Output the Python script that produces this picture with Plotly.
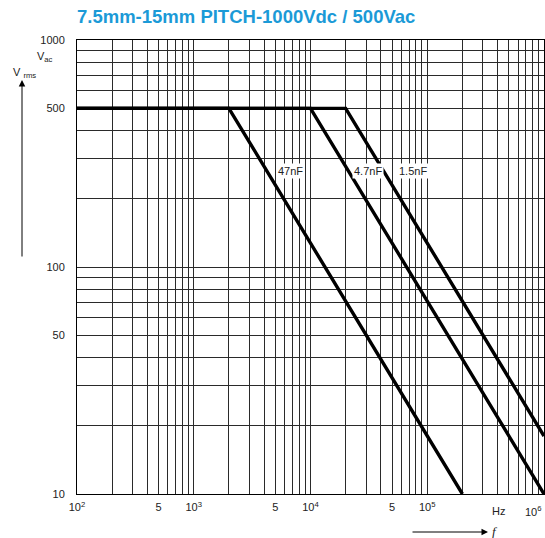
import math
import plotly.graph_objects as go

# ---- data ----
cap_labels = ["47nF", "4.7nF", "1.5nF"]
freq_47nF = [100, 2000, 200000]
volt_47nF = [500, 500, 10]
freq_4n7F = [100, 10000, 1000000]
volt_4n7F = [500, 500, 10]
freq_1n5F = [100, 20000, 1000000]
volt_1n5F = [500, 500, 18]

# label anchor positions (freq, volt)
label_freq = [6700, 31000, 75500]
label_volt = [265, 265, 265]

# tick labels
x_tick_vals = [100, 500, 1000, 5000, 10000, 50000, 100000]
x_tick_text = ["10<sup>2</sup>", "5", "10<sup>3</sup>", "5", "10<sup>4</sup>", "5", "10<sup>5</sup>"]
y_tick_vals = [10, 50, 100, 500, 1000]
y_tick_text = ["10", "50", "100", "500", "1000"]
# grid lines at every 1..9 x 10^n
x_grid = [m * 10 ** e for e in range(2, 6) for m in range(1, 10)] + [10 ** 6]
y_grid = [m * 10 ** e for e in range(1, 3) for m in range(1, 10)] + [1000]

title_text = "7.5mm-15mm PITCH-1000Vdc / 500Vac"

FONT = "Liberation Sans, Arial"
TXT = "#222"

fig = go.Figure()
for f, v in [(freq_47nF, volt_47nF), (freq_4n7F, volt_4n7F), (freq_1n5F, volt_1n5F)]:
    fig.add_trace(go.Scatter(x=f, y=v, mode="lines",
                             line=dict(color="black", width=3.4),
                             showlegend=False, hoverinfo="skip"))

grid_col = "#2a2a2a"
fig.update_xaxes(type="log", range=[2, 6],
                 tickmode="array", tickvals=x_tick_vals, ticktext=x_tick_text,
                 showgrid=True, gridcolor=grid_col, gridwidth=1,
                 minor=dict(tickmode="array",
                            tickvals=[v for v in x_grid if v not in x_tick_vals],
                            showgrid=True, gridcolor=grid_col, gridwidth=1, ticks=""),
                 showline=True, linecolor="black", linewidth=1, mirror=True,
                 ticks="", zeroline=False, ticklabelstandoff=3,
                 tickfont=dict(family=FONT, size=11, color=TXT))
fig.update_yaxes(type="log", range=[1, 3],
                 tickmode="array", tickvals=y_tick_vals, ticktext=y_tick_text,
                 showgrid=True, gridcolor=grid_col, gridwidth=1,
                 minor=dict(tickmode="array",
                            tickvals=[v for v in y_grid if v not in y_tick_vals],
                            showgrid=True, gridcolor=grid_col, gridwidth=1, ticks=""),
                 showline=True, linecolor="black", linewidth=1, mirror=True,
                 ticks="", zeroline=False, ticklabelstandoff=9,
                 tickfont=dict(family=FONT, size=11, color=TXT))

ann = []
for lab, fx, vy in zip(cap_labels, label_freq, label_volt):
    ann.append(dict(x=math.log10(fx), y=math.log10(vy), xref="x", yref="y",
                    text=lab, showarrow=False, bgcolor="white",
                    font=dict(family=FONT, size=11, color=TXT),
                    borderpad=1))
# 10^6 label, Hz
ann.append(dict(x=1, y=0, xref="paper", yref="paper", xanchor="right", yanchor="top",
                yshift=-8, text="10<sup>6</sup>", showarrow=False,
                font=dict(family=FONT, size=11, color=TXT)))
ann.append(dict(x=math.log10(4.1e5), y=0, xref="x", yref="paper", yanchor="top",
                yshift=-9, text="Hz", showarrow=False,
                font=dict(family=FONT, size=11, color=TXT)))
# V_ac under 1000
ann.append(dict(x=0, y=1, xref="paper", yref="paper", xanchor="right", yanchor="top",
                xshift=-22, yshift=-8, text="V<sub>ac</sub>", showarrow=False,
                font=dict(family=FONT, size=11, color=TXT)))
# V rms label
ann.append(dict(x=0, y=1, xref="paper", yref="paper", xanchor="left", yanchor="middle",
                xshift=-66, yshift=-33, text="V <sub>rms</sub>", showarrow=False,
                font=dict(family=FONT, size=11, color=TXT)))
# vertical arrow
ann.append(dict(x=0, y=1, xref="paper", yref="paper", xshift=-55, yshift=-40,
                ax=0, ay=178, axref="pixel", ayref="pixel", text="",
                showarrow=True, arrowhead=2, arrowsize=1.3, arrowwidth=1,
                arrowcolor="black"))
# horizontal arrow f
ann.append(dict(x=0, y=0, xref="paper", yref="paper", xshift=411, yshift=-38,
                ax=-102, ay=0, axref="pixel", ayref="pixel", text="",
                showarrow=True, arrowhead=2, arrowsize=1.3, arrowwidth=1,
                arrowcolor="black"))
ann.append(dict(x=0, y=0, xref="paper", yref="paper", xshift=418, yshift=-37,
                text="<i>f</i>", showarrow=False, xanchor="center", yanchor="middle",
                font=dict(family="Liberation Serif, Times New Roman", size=13, color=TXT)))

fig.update_layout(
    width=545, height=538,
    margin=dict(l=77, r=1, t=40, b=44),
    paper_bgcolor="white", plot_bgcolor="white",
    title=dict(text="<b>" + title_text + "</b>", x=0, xanchor="left", xref="paper",
               y=1 - 17 / 538, yanchor="middle", yref="container",
               font=dict(family=FONT, size=18.5, color="#1b9ad7")),
    annotations=ann,
)

# remove the default page margin so the 545x538 figure fills the window exactly
fig.write_html("out.html",
               config={"displayModeBar": False},
               post_script="document.body.style.margin='0';"
                           "document.body.style.overflow='hidden';")
